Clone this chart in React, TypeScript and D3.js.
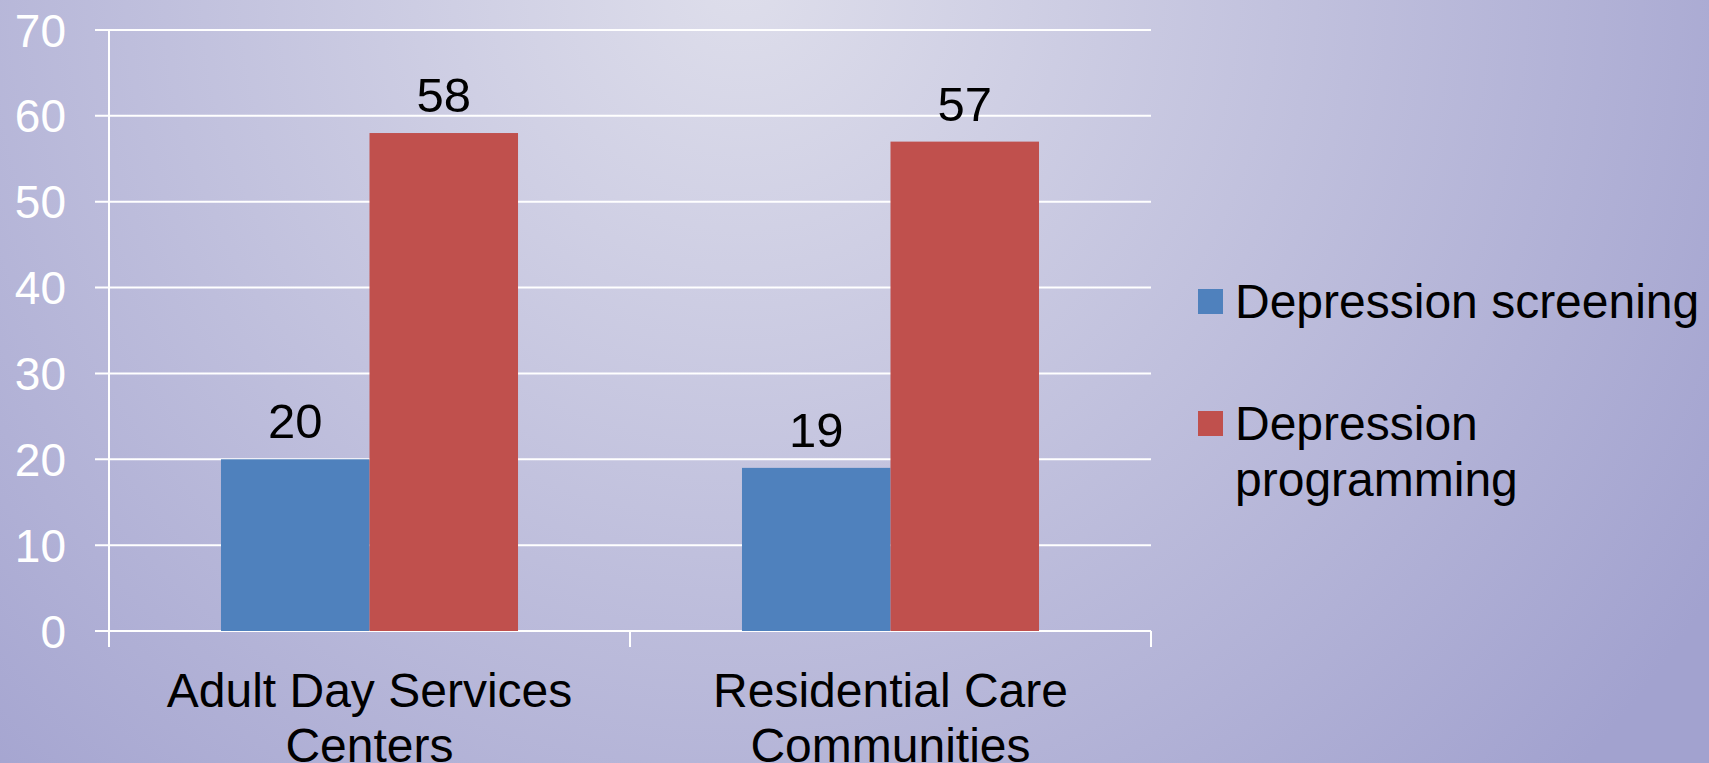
import React, { useEffect, useRef } from 'react';
import * as d3 from 'd3';

const categories = ['Adult Day Services Centers', 'Residential Care Communities'];
const categoryLines = [['Adult Day Services', 'Centers'], ['Residential Care', 'Communities']];
const seriesNames = ['Depression screening', 'Depression programming'];
const legendLines = [['Depression screening'], ['Depression', 'programming']];
const screeningValues = [20, 19];
const programmingValues = [58, 57];
const yTicks = [0, 10, 20, 30, 40, 50, 60, 70];
const seriesColors = ['#4f81bd', '#c0504d'];

const W = 1709;
const H = 763;

const App: React.FC = () => {
  const svgRef = useRef<SVGSVGElement>(null);

  useEffect(() => {
    document.body.style.margin = '0';
    if (!svgRef.current) {return;}
    const svg = d3.select(svgRef.current);
    svg.selectAll('*').remove();

    const font = "'Liberation Sans', Arial, sans-serif";
    const left = 109, right = 1151, top = 30, bottom = 631;

    // background
    const defs = svg.append('defs');
    const grad = defs.append('radialGradient')
      .attr('id', 'bg')
      .attr('gradientUnits', 'userSpaceOnUse')
      .attr('cx', 740).attr('cy', -20).attr('r', 1150);
    grad.append('stop').attr('offset', '0%').attr('stop-color', '#dedeeb');
    grad.append('stop').attr('offset', '100%').attr('stop-color', '#a2a2cf');
    svg.append('rect').attr('width', W).attr('height', H).attr('fill', 'url(#bg)');

    const x0 = d3.scaleBand().domain(categories).range([left, right]).paddingInner(0).paddingOuter(0);
    const x1 = d3.scaleBand().domain(seriesNames).range([0, x0.bandwidth()]).paddingInner(0).paddingOuter(0.754);
    const y = d3.scaleLinear().domain([0, 70]).range([bottom, top]);

    const g = svg.append('g');

    // gridlines + y ticks
    g.selectAll('.grid')
      .data(yTicks)
      .enter()
      .append('line')
      .attr('x1', left - 14)
      .attr('x2', right)
      .attr('y1', d => y(d))
      .attr('y2', d => y(d))
      .attr('stroke', '#ffffff')
      .attr('stroke-width', 2);

    g.selectAll('.ylab')
      .data(yTicks)
      .enter()
      .append('text')
      .attr('x', 66)
      .attr('y', d => y(d))
      .attr('dy', '0.36em')
      .attr('text-anchor', 'end')
      .attr('font-family', font)
      .attr('font-size', 46)
      .attr('fill', '#ffffff')
      .text(d => d);

    // axis line
    g.append('line')
      .attr('x1', left).attr('x2', left)
      .attr('y1', top).attr('y2', bottom + 16)
      .attr('stroke', '#ffffff').attr('stroke-width', 2);

    // category ticks
    const tickXs = [left, ...categories.map(c => (x0(c) || 0) + x0.bandwidth())];
    g.selectAll('.xtick')
      .data(tickXs)
      .enter()
      .append('line')
      .attr('x1', d => d).attr('x2', d => d)
      .attr('y1', bottom).attr('y2', bottom + 16)
      .attr('stroke', '#ffffff').attr('stroke-width', 2);

    // bars
    const series = [screeningValues, programmingValues];
    categories.forEach((cat, ci) => {
      series.forEach((vals, si) => {
        const bx = (x0(cat) || 0) + (x1(seriesNames[si]) || 0);
        g.append('rect')
          .attr('x', bx)
          .attr('y', y(vals[ci]))
          .attr('width', x1.bandwidth())
          .attr('height', y(0) - y(vals[ci]))
          .attr('fill', seriesColors[si]);
        g.append('text')
          .attr('x', bx + x1.bandwidth() / 2)
          .attr('y', y(vals[ci]) - 21)
          .attr('text-anchor', 'middle')
          .attr('font-family', font)
          .attr('font-size', 49)
          .attr('fill', '#000000')
          .text(vals[ci]);
      });

      // category label
      const cx = (x0(cat) || 0) + x0.bandwidth() / 2;
      const t = g.append('text')
        .attr('text-anchor', 'middle')
        .attr('font-family', font)
        .attr('font-size', 48)
        .attr('fill', '#000000');
      categoryLines[ci].forEach((line, li) => {
        t.append('tspan').attr('x', cx).attr('y', 707 + li * 55).text(line);
      });
    });

    // legend
    const legendTop = [289, 411];
    const legendBase = [318, 440];
    seriesNames.forEach((name, i) => {
      g.append('rect')
        .attr('x', 1198)
        .attr('y', legendTop[i])
        .attr('width', 25)
        .attr('height', 25)
        .attr('fill', seriesColors[i]);
      const t = g.append('text')
        .attr('font-family', font)
        .attr('font-size', 48)
        .attr('fill', '#000000');
      legendLines[i].forEach((line, li) => {
        t.append('tspan').attr('x', 1235).attr('y', legendBase[i] + li * 56).text(line);
      });
    });
  }, []);

  return (
    <svg ref={svgRef} width={W} height={H} style={{ display: 'block' }} />
  );
};

export default App;
